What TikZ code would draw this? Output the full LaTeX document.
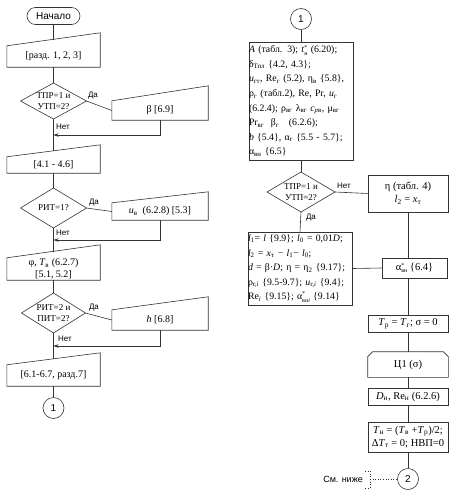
\documentclass[tikz,border=0pt]{standalone}
\usepackage{fontspec}
\setmainfont{Liberation Serif}
\newfontfamily\sansf{Liberation Sans}
\usetikzlibrary{calc,arrows.meta}
\newcommand{\sbs}[1]{\textsubscript{#1}}
\newcommand{\sps}[2]{\raisebox{-2.5pt}{\fontsize{6}{7}\selectfont\shortstack[l]{#1\\#2}}}
\newcommand{\minput}[7]{%
  \node[txt, minimum width={#3-#2}, minimum height={#6-#4}] (#1) at ({(#2+#3)/2},{(#4+#6)/2}) {#7};
  \draw[ln] (#1.south west) -- (#1.north west) -- ($(#1.north east)+(0,{#5-#4})$) -- (#1.south east) -- cycle;}
\newcommand{\decision}[6]{%
  \node[dtxt] (#1) at (#2,#3) {#6};
  \coordinate (#1-n) at (#2,#3-#5);
  \coordinate (#1-s) at (#2,#3+#5);
  \coordinate (#1-e) at (#2+#4,#3);
  \draw[ln] (#2-#4,#3) -- (#1-n) -- (#1-e) -- (#1-s) -- cycle;}
\begin{document}
\begin{tikzpicture}[x=1pt,y=-1pt,
  ln/.style={draw=black!80, line width=0.6pt},
  arr/.style={ln, -{Stealth[length=5pt,width=3.5pt]}},
  txt/.style={font=\fontsize{10}{12}\selectfont, align=center, inner sep=0pt},
  dtxt/.style={font=\fontsize{9}{11.5}\selectfont, align=center, inner sep=0pt},
  lbl/.style={font=\sansf\fontsize{8}{9}\selectfont, inner sep=0pt},
  rbox/.style={ln, draw, font=\fontsize{10.5}{13}\selectfont, align=center, inner sep=0pt},
  bigbox/.style={ln, draw, font=\fontsize{9.8}{14.6}\selectfont, align=left, inner sep=0pt, text width=104pt},
  conn/.style={ln, draw, circle, minimum size=21pt, inner sep=0pt, font=\sansf\fontsize{10}{12}\selectfont}]
\useasboundingbox (0,0) rectangle (459,496);
% ---------- left column ----------
\node[ln, draw, rounded corners=8.5pt, minimum width=53pt, minimum height=17pt, inner sep=0pt,
      font=\sansf\fontsize{10}{12}\selectfont] (start) at (53.5,16) {Начало};
\minput{in1}{7}{100}{46}{33}{67}{[разд. 1, 2, 3]}
\coordinate (in1t) at (53.5,39.5);
\decision{d1}{53.5}{101}{33}{18}{ТПР=1 и\\УТП=2?}
\minput{b1}{112}{208}{101}{86}{120}{β [6.9]}
\coordinate (r1) at (53.5,135);
\minput{in2}{7}{100}{157}{145}{173}{[4.1 - 4.6]}
\coordinate (in2t) at (53.5,151);
\decision{d2}{53.5}{208}{33}{20}{РИТ=1?}
\minput{b2}{112}{208}{203}{192}{220}{\textit{u}\sbs{в}\ \ (6.2.8) [5.3]}
\coordinate (r2) at (53.5,240);
\minput{in3}{7}{100}{258}{245}{280}{φ, \textit{T}\sbs{в} (6.2.7)\\{}[5.1, 5.2]}
\coordinate (in3t) at (53.5,251.5);
\decision{d3}{53.5}{313}{32}{20}{РИТ=2 и\\ПИТ=2?}
\minput{b3}{112}{208}{310}{297}{330}{\textit{h} [6.8]}
\coordinate (r3) at (53.5,346);
\minput{in4}{7}{100}{365}{353}{386}{[6.1-6.7, разд.7]}
\coordinate (in4t) at (53.5,359);
\node[conn] (c1) at (53.5,408) {1};

\draw[ln] (start) -- (in1t);
\draw[ln] (in1.south) -- (d1-n);
\draw[ln] (d1-e) -- (b1.west);
\draw[ln] (d1-s) -- (in2t);
\draw[arr] (b1.south) |- (r1);
\draw[ln] (in2.south) -- (d2-n);
\draw[ln] (d2-e) -- (b2.west);
\draw[ln] (d2-s) -- (in3t);
\draw[arr] (b2.south) |- (r2);
\draw[ln] (in3.south) -- (d3-n);
\draw[ln] (d3-e) -- (b3.west);
\draw[ln] (d3-s) -- (in4t);
\draw[arr] (b3.south) |- (r3);
\draw[ln] (in4.south) -- (c1);

\node[lbl] (y1) at (93,96) {Да};
\node[lbl] (n1) at (63,127) {Нет};
\node[lbl] (y2) at (94,203) {Да};
\node[lbl] (n2) at (63,233) {Нет};
\node[lbl] (y3) at (94,308) {Да};
\node[lbl] (n3) at (65,339) {Нет};

% ---------- right column ----------
\node[conn] (c1r) at (301,19) {1};
\node[bigbox, minimum height=118pt] (bx1) at (301,101) {%
\textit{A} (табл. 3); \textit{t}\sps{*}{н}\ (6.20);\\
δ\sbs{Тпл} \{4.2, 4.3\};\\
\textit{u}\sbs{гт}, Re\sbs{г} (5.2), η\sbs{в}\ \{5.8\},\\
ρ\sbs{г} (табл.2), Re, Pr, \textit{u}\sbs{г}\\
(6.2.4); ρ\sbs{вг}\ λ\sbs{вг}\ \textit{c}\sbs{\textit{p}в}, μ\sbs{вг}\\
Pr\sbs{вг}\ \ β\sbs{г}\ \ \ (6.2.6);\\
\textit{b} \{5.4\}, α\sbs{г} \{5.5 - 5.7\};\\
α\sbs{вн}\ \{6.5\}};
\decision{d4}{301}{192}{34}{20}{ТПР=1 и\\УТП=2?}
\node[rbox, minimum width=80pt, minimum height=37pt] (eta) at (408,193.5) {η (табл. 4)\\\textit{l}\sbs{2} = \textit{x}\sbs{т}};
\node[bigbox, minimum height=73pt] (lb) at (300,268.5) {%
\textit{l}\sbs{1}= \textit{l} \{9.9\}; \textit{l}\sbs{0} = 0,01\textit{D};\\
\textit{l}\sbs{2} = \textit{x}\sbs{т} − \textit{l}\sbs{1}− \textit{l}\sbs{0};\\
\textit{d} = β·\textit{D}; η = η\sbs{2} \{9.17\};\\
ρ\sbs{г,\textit{i}} \{9.5-9.7\}; \textit{u}\sbs{г,\textit{i}} \{9.4\};\\
Re\sbs{\textit{i}} \{9.15\}; α\sps{*}{вн\textit{i}}\ \{9.14\}};
\node[rbox, minimum width=65pt, minimum height=20pt] (al) at (414.5,268) {α\sps{*}{вн}\ \{6.4\}};
\node[rbox, minimum width=80pt, minimum height=17pt] (tp) at (408,323.5) {\textit{T}\sbs{р} = \textit{T}\sbs{г}; σ = 0};
\node[rbox, draw=none, minimum width=80pt, minimum height=25pt] (loop) at (408,364.5) {Ц1 (σ)};
\draw[ln] (loop.south west) -- ($(loop.north west)+(0,5)$) -- ($(loop.north west)+(5,0)$)
  -- ($(loop.north east)+(-5,0)$) -- ($(loop.north east)+(0,5)$) -- (loop.south east) -- cycle;
\node[rbox, minimum width=80pt, minimum height=17pt] (dn) at (408,396.5) {\textit{D}\sbs{н}, Re\sbs{н} (6.2.6)};
\node[rbox, minimum width=80pt, minimum height=30pt] (tn) at (408,437) {\textit{T}\sbs{н} = (\textit{T}\sbs{в} +\textit{T}\sbs{р})/2;\\Δ\textit{T}\sbs{т} = 0; НВП=0};
\node[conn] (c2) at (408,479) {2};
\node[font=\sansf\fontsize{9}{11}\selectfont, inner sep=0pt, anchor=east] (note) at (363,479) {См. ниже};
\coordinate (brt) at (370,471);
\coordinate (brm) at (370,479);
\coordinate (brb) at (370,488);
\draw[ln, dotted] ($(brt)+(-5,0)$) -- (brt) -- (brb) -- ($(brb)+(-5,0)$);
\draw[ln, dotted] (brm) -- (c2);

\draw[ln] (c1r) -- (bx1);
\draw[ln] (bx1.south) -- (d4-n);
\draw[ln] (d4-e) -- (eta.west);
\draw[ln] (d4-s) -- (lb.north);
\draw[ln] (lb.east) -- (al.west);
\draw[ln] (eta.south) -- (eta.south |- al.north);
\draw[ln] (eta.south |- al.south) -- (tp.north);
\draw[ln] (tp) -- (loop.north);
\draw[ln] (loop) -- (dn);
\draw[ln] (dn) -- (tn);
\draw[ln] (tn) -- (c2);
\node[lbl] (n4) at (344,186) {Нет};
\node[lbl] (y4) at (311,218) {Да};
\end{tikzpicture}
\end{document}
